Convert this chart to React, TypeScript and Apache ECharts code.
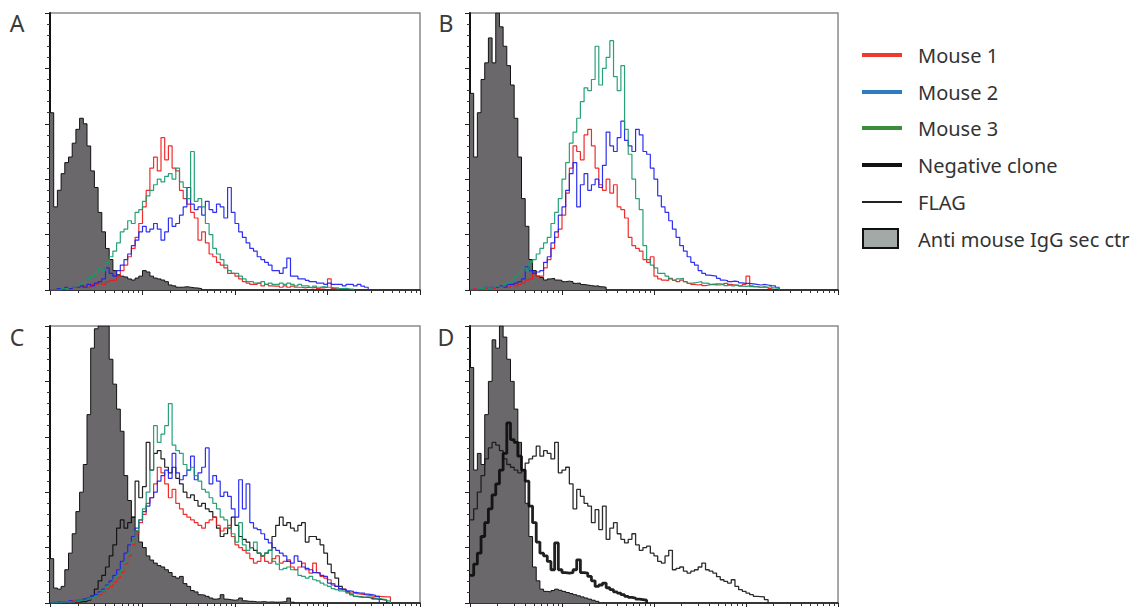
import React, { useEffect, useRef } from "react";
import * as echarts from "echarts";

// Histogram channels: 25 bins per decade over 4 decades (log10 fluorescence)
const BINS_PER_DECADE = 25;
const DECADES = 4;
const Y_MAX = 100;

// ---- Panel A ----
const aIgG = [64, 30, 36, 42, 46, 48, 53, 58, 62, 60, 52, 43, 37, 28, 21, 15, 11, 7, 5.5, 5, 4.7, 4, 3.6, 4.3, 5, 7, 6.5, 5, 4.3, 4, 3.6, 3, 1.8, 1.5, 1, 1, 1.2, 1, 0.8, 0.7, 0.5];
const aMouse1 = [0, 0, 0.5, 0.5, 1, 0.5, 1, 1.5, 1, 1.5, 1, 2, 2, 2.5, 2, 3, 3.5, 3.6, 5, 7, 9, 12, 15, 19, 24, 30, 36, 44, 48, 43, 55, 47, 52, 44, 43, 36, 33, 31, 28, 26, 18, 21, 17, 13, 12, 10, 9, 8, 6, 6, 5, 4, 3, 2.5, 2, 2, 2.5, 1.5, 2, 1.5, 1.4, 1.4, 1, 1.5, 1, 1.4, 1, 1, 0.8, 1, 0.8, 1, 0.5, 0.8, 1, 4, 0.5, 0.3];
const aMouse2 = [0, 0, 0.5, 0, 1, 0.5, 1, 1, 1.5, 1, 2, 1.5, 2.5, 3, 4, 8, 6, 5, 7, 9, 11, 13, 16, 18, 21, 23, 21, 22, 24, 22, 18, 21, 26, 23, 24, 27, 30, 37, 31, 29, 30, 27, 32, 29, 28, 31, 30, 26, 37, 28, 24, 21, 19, 17, 15, 14, 12, 11, 10, 9, 7, 7, 6, 8, 11.5, 5, 5, 4, 4, 3.5, 3, 3, 2.5, 2.5, 2, 2.5, 2, 2, 2, 1.5, 2, 2, 1.5, 2, 1.4, 1];
const aMouse3 = [0, 0, 0, 0.5, 0.5, 1, 1, 1.5, 2, 3, 4, 5, 6, 8, 7, 10, 12, 14, 17, 21, 22, 25, 24, 28, 29, 32, 34, 36, 38, 40, 39, 41, 42, 40, 44, 39, 37, 33, 50, 32, 33, 30, 24, 20, 15, 13, 11, 9, 7, 6, 6, 5, 4, 3, 3, 2.5, 2.5, 3, 2, 2.5, 2, 2, 2.5, 2, 2.5, 2, 1.5, 2, 1.5, 1.5, 1, 1.4, 1, 1.2, 1, 1, 0.8, 0.8, 0.5, 0.6, 0.4, 0.3];

// ---- Panel B ----
const bIgG = [71, 48, 64, 76, 82, 91, 82, 100, 95, 88, 81, 74, 62, 48, 33, 23, 11, 7, 5, 4.5, 3.6, 4, 4.2, 3.6, 3.5, 3, 3.2, 3, 2.4, 2.5, 2, 1.8, 1.6, 1.4, 1.5, 1.2, 1];
const bMouse1 = [0, 0.5, 0, 0.5, 0.5, 1, 0.5, 1, 1, 1.5, 1, 2, 1.5, 2, 2.5, 3.6, 4, 6, 5, 5, 8, 11, 15, 19, 22, 27, 35, 44, 52, 50, 47, 56, 58, 52, 44, 38, 36, 40, 35, 38, 30, 29, 26, 19, 16, 15, 14, 11, 10, 12, 5, 4, 3.6, 3.5, 4.2, 3.5, 3, 3.6, 3, 2.4, 2, 1.8, 2, 1.6, 1.8, 2, 1.8, 2.2, 2, 2.4, 2, 1.8, 1.6, 1.5, 2, 5, 1.5, 1.2, 1, 1, 1, 0.5];
const bMouse2 = [0, 0, 0.5, 0.5, 1, 0.5, 1, 1, 1.5, 1, 2, 2, 2.5, 3, 4, 8.4, 7, 6, 6.5, 7, 10, 12, 17, 21, 27, 30, 36, 42, 46, 30, 38, 42, 36, 38, 40, 37, 45, 57, 52, 50, 55, 61, 54, 52, 50, 58, 56, 50, 49, 44, 40, 34, 30, 28, 25, 22, 19, 16, 14, 12, 10, 9, 7, 6, 5.4, 5.2, 5, 4.2, 3.6, 3.4, 3, 3.2, 3, 2.6, 2.4, 2.4, 2.2, 2, 1.8, 2, 1.8, 1.6, 1.5, 1];
const bMouse3 = [0, 0, 0.5, 0.5, 1, 0.5, 1, 1.5, 1, 2, 2.5, 3, 5, 6, 8, 7, 10, 11, 13, 15, 17, 19, 24, 28, 33, 40, 46, 53, 57, 62, 68, 73, 72, 76, 88, 74, 80, 84, 90, 77, 72, 81, 58, 49, 40, 33, 29, 16, 11, 9, 8, 6, 6, 5, 4, 3.6, 4, 4.2, 3, 2.4, 2.6, 2.8, 3, 2.5, 2.4, 2, 2.2, 1.8, 2, 1.6, 1.8, 1.5, 1.8, 1.4, 1.3, 1.5, 1.2, 1.2, 1, 1.2, 1, 1.2, 0.8, 0.6];

// ---- Panel C ----
const cIgG = [16, 5.4, 5, 6, 12, 18, 25, 33, 40, 50, 68, 92, 99, 100, 100, 100, 88, 79, 70, 62, 46, 37, 31, 26, 22, 20, 17, 15.5, 14.4, 13.5, 13, 12, 11, 9.6, 9, 9.6, 7, 6, 4.5, 4, 3, 2.8, 2.4, 1.8, 1.4, 1.6, 3, 1.4, 1.2, 1, 1.2, 1.8, 0.8, 0.6, 0.6, 0.4, 0.4, 0.5, 0.3, 0.4, 0.3, 0.3, 0.4, 0.5, 1.8, 0.3];
const cFlag = [0, 0, 0, 0, 0, 0.3, 0, 0.3, 0.5, 0.5, 1, 2.5, 5, 8, 10, 13, 17, 21, 27, 30, 27, 29, 31, 44, 38, 42, 58, 48, 54, 55, 52, 49, 47, 49, 45, 43, 40, 38, 39, 37, 35, 36, 34, 33, 31, 27, 24, 25, 27, 31, 28, 24, 23, 22, 20, 19, 18, 17, 18, 19, 24, 28, 31, 28, 29, 27, 26, 28, 29, 22, 24, 24, 23, 21, 18, 14, 11, 9, 6, 5, 4, 3, 2.4, 2.2, 2, 2, 1.8, 1.5, 1.4, 1.2, 1];
const cMouse1 = [0, 0, 0.3, 0.5, 0.3, 0.5, 0.8, 0.5, 1, 1.2, 1.5, 2, 2.5, 3, 4, 5, 6, 7.5, 9, 11, 14, 17, 21, 25, 29, 32, 36, 38, 43, 49, 47, 43, 38, 41, 36, 34, 32, 31, 30, 29, 28, 27, 29, 30, 31, 28, 26, 27, 28, 24, 21, 20, 19, 18, 16, 14.4, 15, 17, 15, 14.4, 16, 17, 14.4, 15, 15.6, 13, 12, 13, 14.4, 12, 10.8, 14.4, 11, 9.6, 9, 8.4, 7, 6, 5, 4.8, 4, 3.6, 3.4, 3.2, 3, 2.8, 2.6, 2.4, 2.4, 2.3, 2.2, 2.2];
const cMouse2 = [0, 0.3, 0.3, 0.5, 0.3, 0.8, 0.5, 1, 1, 1.5, 1.8, 2.5, 3, 4, 5, 6.5, 8, 10, 12, 15, 18, 21, 24, 27, 30, 33, 35, 38, 40, 44, 46, 48, 45, 54, 47, 44.5, 46, 48, 53, 44.5, 47, 49, 56, 43, 46, 44, 38.5, 40, 38.5, 34, 31, 44.5, 34, 43, 29, 27, 26.5, 25, 23, 21.7, 20, 19, 18, 17, 15, 14.4, 17, 15, 13, 12.5, 12, 11, 10.8, 10, 9.6, 7.2, 6.5, 6, 5.2, 4.8, 4.4, 4.2, 3.8, 3.6, 3.6, 3.2, 3, 2.8, 2.4];
const cMouse3 = [0, 0.3, 0, 0.3, 0.5, 0.3, 0.5, 0.8, 1, 1, 1.5, 2, 2.5, 3.5, 4.5, 6, 7, 8.5, 10, 12, 15, 18, 22, 26, 30, 34, 40, 48, 64, 58, 61, 64, 72, 57, 55, 54, 50, 48, 49, 46, 44, 41, 40, 38, 36, 34, 31, 30, 27, 25, 22, 29, 21, 19, 20, 22, 18, 17, 18, 19, 15, 14, 12, 12.5, 13, 12, 12, 10, 9.6, 9, 9.6, 8.4, 8, 7.2, 6.5, 6, 5.2, 4.8, 4.4, 4.2, 3.6, 3, 2.4, 2.2, 2, 2.2, 2, 1.8, 1.6, 1.4, 1.2, 0.8];

// ---- Panel D ----
const dIgG = [85, 48, 54, 50, 68, 80, 95, 92, 100, 96, 88, 80, 70, 58, 48, 36, 24, 13, 8, 5, 4.2, 4, 4.5, 5, 4.6, 4.2, 3.8, 3.4, 3, 2.6, 2.2, 1.8, 1.4, 1, 0.6];
const dFlag = [30, 34, 40, 46, 52, 56, 58, 57, 55, 52, 50, 49, 48, 47, 48, 50.5, 52, 53, 56.6, 53, 55, 54, 52, 58, 47, 48, 49, 43, 34, 41, 38.5, 36, 35, 29, 33.7, 26.5, 35, 23, 27, 29, 25, 23, 21.7, 23, 25, 21, 19, 20, 20.5, 18, 17, 15, 14.4, 17, 19, 12, 12.5, 13, 11.5, 10.8, 11.5, 12, 13, 14.4, 12, 11.5, 10.8, 9.5, 8.4, 7.8, 7.2, 8.4, 6, 4.8, 4.2, 3.6, 3, 2.4, 2.3, 2.2, 1.2];
const dNegative = [10, 14, 18, 24, 29, 34, 39, 43, 48, 54, 65, 59, 58, 53, 48, 44, 35, 29, 22, 18, 17, 15, 12, 21.7, 12, 11, 10.8, 11, 12, 15.6, 11, 10.8, 9.6, 8, 6, 6.5, 7.2, 5.5, 4.8, 4, 3.6, 3, 2.4, 2, 1.8, 1.4, 1.2, 1];

// Tick labels of the log axis (decades and the 2..9 multiples between them)
const DECADE_EXPONENTS = [0, 1, 2, 3, 4];
const MINOR_MULTIPLES = [2, 3, 4, 5, 6, 7, 8, 9];

// Legend entries
const LEGEND_LINES = [
  { label: "Mouse 1", color: "#ee3a2e", width: 4 },
  { label: "Mouse 2", color: "#2e7cc2", width: 4 },
  { label: "Mouse 3", color: "#3c8c40", width: 4 },
  { label: "Negative clone", color: "#111111", width: 4 },
  { label: "FLAG", color: "#222222", width: 2 },
];
const LEGEND_BOX_LABEL = "Anti mouse IgG sec ctr";
const PANEL_LETTERS = ["A", "B", "C", "D"];

const COLORS = {
  mouse1: "#f01a1a",
  mouse2: "#1c1ef0",
  mouse3: "#16996b",
  black: "#0d0d0d",
  igGFill: "#6b686c",
};

const PANELS = [
  { left: 50, top: 13, width: 370, height: 277 },
  { left: 470, top: 13, width: 368, height: 277 },
  { left: 50, top: 326, width: 370, height: 277 },
  { left: 470, top: 326, width: 368, height: 277 },
];

function toSteps(values: number[]): number[][] {
  const pts = values.map((v, i) => [i / BINS_PER_DECADE, v]);
  pts.push([values.length / BINS_PER_DECADE, 0]);
  return pts;
}

function filled(name: string, values: number[], g: number) {
  return {
    type: "line",
    name,
    xAxisIndex: 2 * g,
    yAxisIndex: g,
    data: toSteps(values),
    step: "end",
    symbol: "none",
    silent: true,
    lineStyle: { color: "#111", width: 1 },
    areaStyle: { color: COLORS.igGFill, opacity: 1 },
  };
}

function outline(name: string, values: number[], g: number, color: string, width: number) {
  return {
    type: "line",
    name,
    xAxisIndex: 2 * g,
    yAxisIndex: g,
    data: toSteps(values),
    step: "end",
    symbol: "none",
    silent: true,
    lineStyle: { color, width, opacity: 0.92 },
  };
}

export default function App() {
  const ref = useRef<HTMLDivElement>(null);

  useEffect(() => {
    if (!ref.current) return;
    const chart = echarts.init(ref.current, undefined, { renderer: "svg" });

    const majorTicks = DECADE_EXPONENTS;
    const minorTicks: number[] = [];
    for (let d = 0; d < DECADES; d++) {
      for (const m of MINOR_MULTIPLES) minorTicks.push(d + Math.log10(m));
    }

    const grid = PANELS.map((p) => ({
      left: p.left,
      top: p.top,
      width: p.width,
      height: p.height,
      show: true,
      borderColor: "#8a8a8a",
      borderWidth: 1.5,
      backgroundColor: "#ffffff",
      containLabel: false,
    }));

    const xAxis: any[] = [];
    const yAxis: any[] = [];
    PANELS.forEach((_, g) => {
      xAxis.push({
        type: "value",
        gridIndex: g,
        min: 0,
        max: DECADES,
        position: "bottom",
        axisLine: { show: true, onZero: false, lineStyle: { color: "#111", width: 1.5 } },
        axisTick: { show: true, customValues: majorTicks, length: 5, lineStyle: { color: "#222", width: 1 } },
        axisLabel: { show: false },
        splitLine: { show: false },
      });
      xAxis.push({
        type: "value",
        gridIndex: g,
        min: 0,
        max: DECADES,
        position: "bottom",
        axisLine: { show: false, onZero: false },
        axisTick: { show: true, customValues: minorTicks, length: 3, lineStyle: { color: "#333", width: 1 } },
        axisLabel: { show: false },
        splitLine: { show: false },
      });
      yAxis.push({
        type: "value",
        gridIndex: g,
        min: 0,
        max: Y_MAX,
        interval: 20,
        axisLine: { show: true, onZero: false, lineStyle: { color: "#111", width: 2 } },
        axisTick: { show: true, length: 5, lineStyle: { color: "#222", width: 1 } },
        minorTick: { show: true, splitNumber: 5, length: 3, lineStyle: { color: "#333", width: 1 } },
        axisLabel: { show: false },
        splitLine: { show: false },
        minorSplitLine: { show: false },
      });
    });

    const series = [
      filled("Anti mouse IgG sec ctr", aIgG, 0),
      outline("Mouse 1", aMouse1, 0, COLORS.mouse1, 1.2),
      outline("Mouse 2", aMouse2, 0, COLORS.mouse2, 1.2),
      outline("Mouse 3", aMouse3, 0, COLORS.mouse3, 1.2),

      filled("Anti mouse IgG sec ctr", bIgG, 1),
      outline("Mouse 1", bMouse1, 1, COLORS.mouse1, 1.2),
      outline("Mouse 2", bMouse2, 1, COLORS.mouse2, 1.2),
      outline("Mouse 3", bMouse3, 1, COLORS.mouse3, 1.2),

      filled("Anti mouse IgG sec ctr", cIgG, 2),
      outline("FLAG", cFlag, 2, COLORS.black, 1.2),
      outline("Mouse 1", cMouse1, 2, COLORS.mouse1, 1.2),
      outline("Mouse 2", cMouse2, 2, COLORS.mouse2, 1.2),
      outline("Mouse 3", cMouse3, 2, COLORS.mouse3, 1.2),

      filled("Anti mouse IgG sec ctr", dIgG, 3),
      outline("FLAG", dFlag, 3, "#1a1a1a", 1.3),
      outline("Negative clone", dNegative, 3, COLORS.black, 2.8),
    ];

    const font = "'Noto Sans', 'Open Sans', sans-serif";
    const graphic: any[] = [];
    const letterPos = [
      { x: 17, y: 23 },
      { x: 446, y: 23 },
      { x: 17, y: 337 },
      { x: 446, y: 337 },
    ];
    PANEL_LETTERS.forEach((t, i) => {
      graphic.push({
        type: "text",
        x: letterPos[i].x,
        y: letterPos[i].y,
        style: { text: t, fontSize: 23, fontFamily: font, fill: "#3a3a3a", align: "center", verticalAlign: "middle" },
      });
    });
    const rowY = [55, 92, 128, 165, 202];
    LEGEND_LINES.forEach((e, i) => {
      graphic.push({
        type: "line",
        shape: { x1: 862, y1: rowY[i], x2: 902, y2: rowY[i] },
        style: { stroke: e.color, lineWidth: e.width },
      });
      graphic.push({
        type: "text",
        x: 918,
        y: rowY[i],
        style: { text: e.label, fontSize: 20, fontFamily: font, fill: "#333", verticalAlign: "middle" },
      });
    });
    graphic.push({
      type: "rect",
      shape: { x: 863, y: 229, width: 35, height: 19 },
      style: { fill: "#a3a9a7", stroke: "#111", lineWidth: 2 },
    });
    graphic.push({
      type: "text",
      x: 918,
      y: 239,
      style: { text: LEGEND_BOX_LABEL, fontSize: 20, fontFamily: font, fill: "#333", verticalAlign: "middle" },
    });

    chart.setOption({
      animation: false,
      backgroundColor: "#ffffff",
      grid,
      xAxis,
      yAxis,
      series,
      graphic,
    });

    return () => chart.dispose();
  }, []);

  return (
    <div
      ref={ref}
      style={{ position: "fixed", left: 0, top: 0, width: 1142, height: 607 }}
    />
  );
}
